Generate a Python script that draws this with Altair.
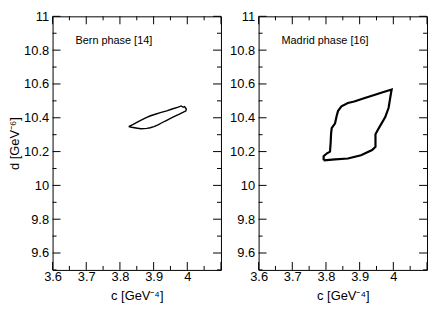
import altair as alt
import pandas as pd

# --- data ---
bern_c = [3.826, 3.838, 3.853, 3.866, 3.878, 3.891, 3.905, 3.920, 3.939, 3.955, 3.973, 3.982,
          3.988, 3.992, 3.997, 3.996, 3.987, 3.975, 3.962, 3.950, 3.939, 3.926, 3.913, 3.901,
          3.890, 3.880, 3.872, 3.862, 3.852, 3.843, 3.835, 3.826]
bern_d = [10.348, 10.360, 10.376, 10.389, 10.401, 10.412, 10.421, 10.430, 10.441, 10.452, 10.463, 10.470,
          10.462, 10.466, 10.452, 10.441, 10.432, 10.420, 10.408, 10.396, 10.385, 10.372, 10.358, 10.348,
          10.341, 10.337, 10.336, 10.335, 10.338, 10.341, 10.344, 10.348]

madrid_c = [3.793, 3.793, 3.803, 3.812, 3.814, 3.815, 3.817, 3.827, 3.832, 3.836, 3.846, 3.865,
            3.884, 3.913, 3.941, 3.971, 3.995, 3.992, 3.986, 3.976, 3.957, 3.947, 3.947, 3.937,
            3.904, 3.865, 3.827, 3.793]
madrid_d = [10.148, 10.172, 10.190, 10.200, 10.256, 10.302, 10.339, 10.367, 10.413, 10.441, 10.468, 10.487,
            10.496, 10.515, 10.533, 10.552, 10.567, 10.533, 10.459, 10.404, 10.339, 10.302, 10.228, 10.209,
            10.178, 10.159, 10.154, 10.148]

panel_labels = ["Bern phase [14]", "Madrid phase [16]"]
label_c = [3.668, 3.668]
label_d = [10.855, 10.855]

x_labels = [3.6, 3.7, 3.8, 3.9, 4.0]
x_major = [3.6, 3.7, 3.8, 3.9, 4.0, 4.1]
x_minor = [3.65, 3.75, 3.85, 3.95, 4.05]
y_labels = [9.6, 9.8, 10.0, 10.2, 10.4, 10.6, 10.8, 11.0]
y_major = [9.6, 9.8, 10.0, 10.2, 10.4, 10.6, 10.8, 11.0]
y_minor = [9.5, 9.7, 9.9, 10.1, 10.3, 10.5, 10.7, 10.9]

x_domain = [3.6, 4.1]
y_domain = [9.5, 11.0]

FONT = "Liberation Sans"
W = 170
H = 256
MAJ = 8
MIN = 4


def panel(cs, ds, label, lx, ly, stroke_w, show_ytitle):
    loop = pd.DataFrame({"c": cs, "d": ds, "i": list(range(len(cs)))})
    xs = alt.Scale(domain=x_domain, nice=False, zero=False)
    ys = alt.Scale(domain=y_domain, nice=False, zero=False)
    xaxis = alt.Axis(values=x_labels, format="~g", ticks=False, domain=False, grid=False,
                     labelPadding=1, titlePadding=6, labelOverlap=False, labelFlush=False)
    yaxis = alt.Axis(values=y_labels, format="~g", ticks=False, domain=False, grid=False,
                     labelPadding=4, titlePadding=2, labelOverlap=False, labelFlush=False)
    xt = "c [GeV⁻⁴]"
    yt = "d [GeV⁻⁶]" if show_ytitle else None

    def X():
        return alt.X("c:Q", scale=xs, axis=xaxis, title=xt)

    def Y():
        return alt.Y("d:Q", scale=ys, axis=yaxis, title=yt)

    line = alt.Chart(loop).mark_line(color="black", strokeWidth=stroke_w).encode(
        x=X(), y=Y(), order="i:Q",
    )
    txt = alt.Chart(pd.DataFrame({"c": [lx], "d": [ly], "t": [label]})).mark_text(
        align="left", baseline="middle", font=FONT, fontSize=11, color="black"
    ).encode(x=X(), y=Y(), text="t:N")

    layers = [line, txt]
    xmaj = pd.DataFrame({"c": x_major})
    xmin = pd.DataFrame({"c": x_minor})
    ymaj = pd.DataFrame({"d": y_major})
    ymin = pd.DataFrame({"d": y_minor})
    for df, ln in ((xmaj, MAJ), (xmin, MIN)):
        layers.append(alt.Chart(df).mark_rule(color="black", strokeWidth=1).encode(
            x=X(), y=alt.value(H), y2=alt.value(H - ln)))
        layers.append(alt.Chart(df).mark_rule(color="black", strokeWidth=1).encode(
            x=X(), y=alt.value(0), y2=alt.value(ln)))
    for df, ln in ((ymaj, MAJ), (ymin, MIN)):
        layers.append(alt.Chart(df).mark_rule(color="black", strokeWidth=1).encode(
            y=Y(), x=alt.value(0), x2=alt.value(ln)))
        layers.append(alt.Chart(df).mark_rule(color="black", strokeWidth=1).encode(
            y=Y(), x=alt.value(W), x2=alt.value(W - ln)))
    return alt.layer(*layers).properties(width=W, height=H)


left = panel(bern_c, bern_d, panel_labels[0], label_c[0], label_d[0], 1.4, True)
right = panel(madrid_c, madrid_d, panel_labels[1], label_c[1], label_d[1], 2.2, False)

chart = alt.hconcat(left, right, spacing=7).properties(
    padding=0, background="white"
).configure_view(
    stroke="black", strokeWidth=1
).configure_axis(
    labelFont=FONT, labelFontSize=13, labelColor="black", labelOverlap=False,
    titleFont=FONT, titleFontSize=13, titleColor="black", titleFontWeight="normal",
)

chart.save("out.html", embed_options={"renderer": "svg", "actions": False})
